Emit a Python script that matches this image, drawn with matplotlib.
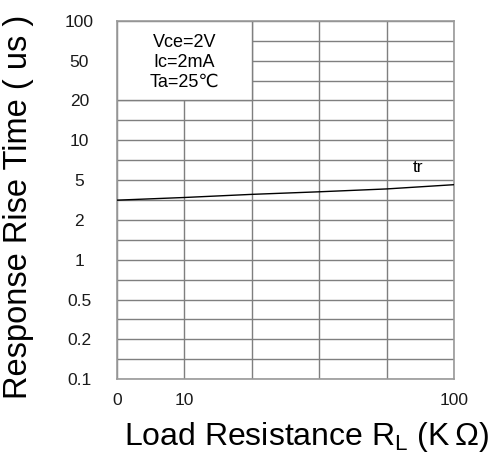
import numpy as np
import matplotlib
matplotlib.use('Agg')
import matplotlib.pyplot as plt
from matplotlib.patches import Rectangle
from matplotlib.ticker import FixedLocator, FixedFormatter, NullFormatter

plt.rcParams['font.family'] = ['Liberation Sans', 'DejaVu Sans']
plt.rcParams['mathtext.fontset'] = 'custom'
plt.rcParams['mathtext.rm'] = 'Liberation Sans'

# axis tick values (the paper grid is evenly spaced between them)
y_ticks = [0.1, 0.2, 0.5, 1, 2, 5, 10, 20, 50, 100]
y_labels = ['0.1', '0.2', '0.5', '1', '2', '5', '10', '20', '50', '100']
x_ticks = [0, 10, 100]
x_labels = ['0', '10', '100']
x_tick_cols = [0, 1, 5]

# tr curve
rl = [0, 10, 32.5, 55, 77.5, 100]
tr = [3.15, 3.35, 3.6, 3.82, 4.08, 4.5]

ylog = np.log10(y_ticks)
ypos = np.arange(len(y_ticks))


def yf(v):
    v = np.clip(np.asarray(v, dtype=float), 1e-6, None)
    return np.interp(np.log10(v), ylog, ypos)


def yi(p):
    return 10 ** np.interp(p, ypos, ylog)


def xf(v):
    return np.interp(v, x_ticks, x_tick_cols)


def xi(p):
    return np.interp(p, x_tick_cols, x_ticks)


fig = plt.figure(figsize=(4.91, 4.53), dpi=100)
ax = fig.add_axes([0.238, 0.163, 0.687, 0.791])
ax.set_xscale('function', functions=(xf, xi))
ax.set_yscale('function', functions=(yf, yi))
ax.set_xlim(0, 100)
ax.set_ylim(0.1, 100)

grid_c = '#7f7f7f'
ax.yaxis.set_major_locator(FixedLocator(y_ticks))
ax.yaxis.set_major_formatter(FixedFormatter(y_labels))
ax.yaxis.set_minor_locator(FixedLocator(yi(np.arange(0.5, 9, 1.0))))
ax.yaxis.set_minor_formatter(NullFormatter())
ax.xaxis.set_major_locator(FixedLocator(x_ticks))
ax.xaxis.set_major_formatter(FixedFormatter(x_labels))
ax.xaxis.set_minor_locator(FixedLocator(xi(np.arange(1, 5))))
ax.xaxis.set_minor_formatter(NullFormatter())
ax.grid(True, which='both', color=grid_c, lw=1.0)
ax.set_axisbelow(True)
ax.tick_params(which='both', length=0, labelsize=12.5, labelcolor='#1a1a1a')
ax.tick_params(axis='y', pad=27)
for lab in ax.get_yticklabels():
    lab.set_horizontalalignment('center')
ax.tick_params(axis='x', pad=10)
for s in ax.spines.values():
    s.set_color('#9a9a9a')
    s.set_linewidth(1.2)

# white box for the test conditions, covering the grid
ax.add_patch(Rectangle((0, 20), 32.5, 80, transform=ax.transData,
                       facecolor='white', edgecolor=grid_c, lw=1.0, zorder=1.5))
ax.text(10, 48, 'Vce=2V\nIc=2mA\nTa=25\u2103', ha='center', va='center',
        fontsize=13, linespacing=1.2, zorder=3)

ax.plot(rl, tr, color='black', lw=1.0, zorder=3)
ax.text(88, 6.2, 'tr', ha='center', va='center', fontsize=12.5, zorder=3)

ax.set_xlabel('Load Resistance R$_{\\mathregular{L}}$ (K$\\,\\mathregular{\\Omega}$)', fontsize=23)
ax.set_ylabel('Response Rise Time ( us )', fontsize=23.5)
ax.xaxis.set_label_coords(0.562, -0.114)
ax.yaxis.set_label_coords(-0.246, 0.48)

fig.savefig('out.png', dpi=100)
